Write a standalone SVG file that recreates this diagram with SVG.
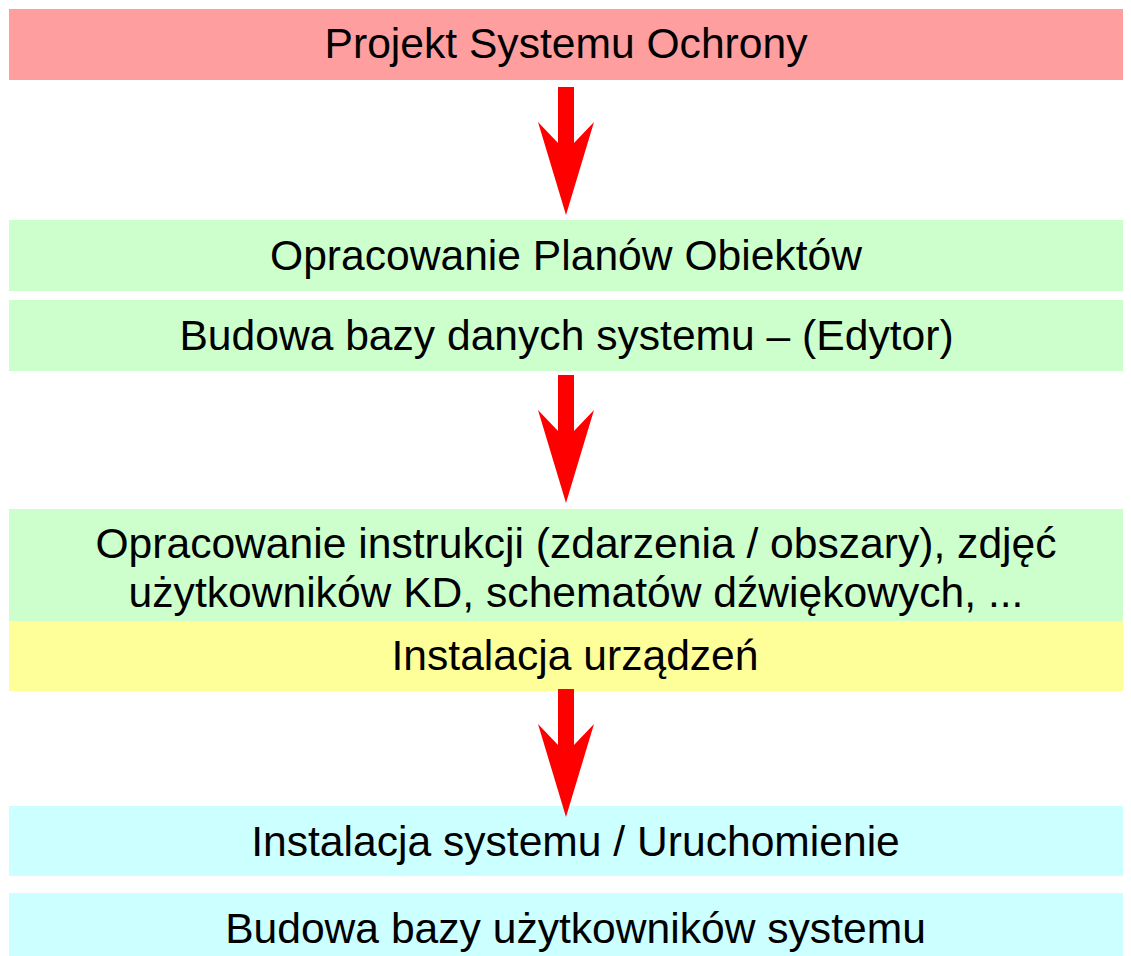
<svg xmlns="http://www.w3.org/2000/svg" width="1131" height="956" viewBox="0 0 1131 956">
<style>
text{font-family:"Liberation Sans",Arial,sans-serif;font-size:42.6px;fill:#000;text-anchor:middle}
.red{fill:#ff9e9e}.green{fill:#ccffcc}.yellow{fill:#ffff99}.cyan{fill:#ccffff}
.arrow{fill:#ff0000}
</style>
<defs>
<polygon id="arr" points="558,0 574,0 574,56 594,35 566,128 538,35 558,56"/>
</defs>
<rect width="1131" height="956" fill="#fff"/>
<g id="n1"><rect class="red" x="9" y="9" width="1114" height="71"/><text x="566" y="58">Projekt Systemu Ochrony</text></g>
<g id="n2"><rect class="green" x="9" y="220" width="1114" height="71"/><text x="566" y="270">Opracowanie Planów Obiektów</text></g>
<g id="n3"><rect class="green" x="9" y="300" width="1114" height="71"/><text x="566.5" y="350">Budowa bazy danych systemu – (Edytor)</text></g>
<g id="n4"><rect class="green" x="9" y="509" width="1114" height="112"/><text x="576" y="558">Opracowanie instrukcji (zdarzenia / obszary), zdjęć</text><text x="576" y="607">użytkowników KD, schematów dźwiękowych, ...</text></g>
<g id="n5"><rect class="yellow" x="9" y="621" width="1114" height="70"/><text x="575" y="670">Instalacja urządzeń</text></g>
<g id="n6"><rect class="cyan" x="9" y="806" width="1114" height="70"/><text x="575.5" y="856">Instalacja systemu / Uruchomienie</text></g>
<g id="n7"><rect class="cyan" x="9" y="893" width="1114" height="70"/><text x="575.5" y="943">Budowa bazy użytkowników systemu</text></g>
<g id="connectors">
<use href="#arr" class="arrow" y="87"/>
<use href="#arr" class="arrow" y="375"/>
<use href="#arr" class="arrow" y="689"/>
</g>
</svg>
